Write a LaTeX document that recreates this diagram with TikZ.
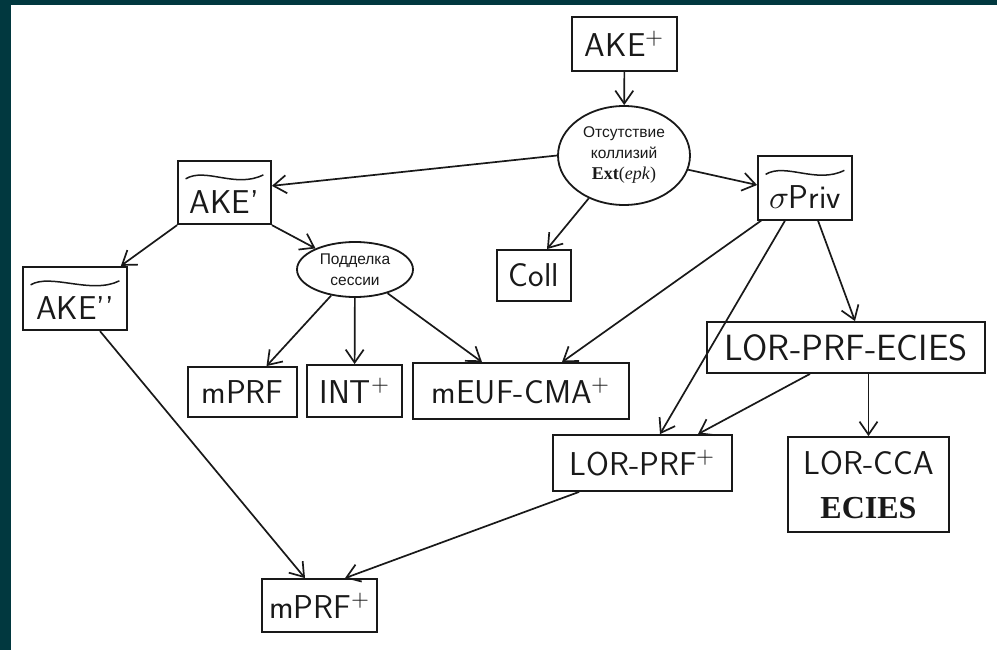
\documentclass[tikz,border=0pt]{standalone}
\usepackage{fontspec}
\usepackage{unicode-math}
\newfontfamily\cyrf{Liberation Sans}
\newfontfamily\serf{Liberation Serif}
\usetikzlibrary{shapes.geometric,arrows.meta}
\definecolor{bgteal}{RGB}{1,56,63}
\definecolor{ink}{RGB}{25,25,25}
\newcommand\tildeon[1]{\draw[tildeline] ([shift={(8.5,19)}]#1.north west) .. controls +(20,-12) and +(-28,14) .. ([shift={(-8.5,15)}]#1.north east);}
\begin{document}
\begin{tikzpicture}[x=1pt,y=-1pt,
  box/.style={draw=ink, line width=1.8pt, inner sep=0pt, font=\fontsize{33}{44}\selectfont\sffamily, text=ink},
  oval/.style={ellipse, draw=ink, line width=1.8pt, inner sep=0pt, font=\fontsize{15.5}{21}\selectfont\cyrf, align=center, text=ink},
  tbox/.style={box, text height=52.5pt, text depth=11pt},
  conn/.style={line width=1.7pt, draw=ink, -{Straight Barb[length=13pt,width=18pt,line width=1.7pt]}},
  tildeline/.style={line width=1.5pt, draw=ink}]
\fill[white] (0,0) rectangle (997,650);
\fill[bgteal] (0,0) rectangle (11,650);
\fill[bgteal] (0,0) rectangle (997,5);
\useasboundingbox (0,0) rectangle (997,650);

\node[box, minimum width=105, minimum height=54] (akep) at (624.5,44) {AKE$^{+}$};
\node[oval, minimum width=132, minimum height=99] (e1) at (624,155.5) {Отсутствие\\коллизий\\{\serf\fontsize{18}{21}\selectfont\textbf{Ext}(\textit{epk})}};
\node[tbox, minimum width=93] (ake1) at (224.5,192.5) {AKE’};
\node[tbox, minimum width=94] (spriv) at (805,188) {$\sigma$Priv};
\node[tbox, minimum width=104] (ake2) at (75,298.5) {AKE’’};
\node[oval, minimum width=116, minimum height=55] (podd) at (355,269.5) {Подделка\\сессии};
\node[box, minimum width=74, minimum height=51] (coll) at (534,275.5) {Coll};
\node[box, minimum width=109, minimum height=50] (mprf) at (242.5,392) {mPRF};
\node[box, minimum width=95, minimum height=52] (int) at (354.5,391) {INT$^{+}$};
\node[box, minimum width=216, minimum height=56] (meuf) at (521,391) {mEUF-CMA$^{+}$};
\node[box, minimum width=278, minimum height=51, font=\fontsize{36.5}{44}\selectfont\sffamily] (lpe) at (846,347.5) {LOR-PRF-ECIES};
\node[box, minimum width=179, minimum height=56] (lorprf) at (642.5,463) {LOR-PRF$^{+}$};
\node[box, minimum width=161, minimum height=95, align=center] (lorcca) at (868.5,484.5) {LOR-CCA\\{\serf\bfseries\fontsize{32}{44}\selectfont ECIES}};
\node[box, minimum width=115, minimum height=53] (mprfp) at (319.5,605.5) {mPRF$^{+}$};

\tildeon{ake1}
\tildeon{spriv}
\tildeon{ake2}

\draw[conn] (akep) -- (e1);
\draw[conn] (e1.west) -- (ake1.8);
\draw[conn] (e1) -- ([yshift=3pt]spriv.west);
\draw[conn] (e1) -- ([xshift=13pt]coll.north);
\draw[conn] (ake1.south west) -- ([xshift=-7pt]ake2.north east);
\draw[conn] (ake1.south east) -- (podd);
\draw[conn] (podd) -- ([xshift=24pt]mprf.north);
\draw[conn] (podd) -- (int);
\draw[conn] (podd) -- ([xshift=-39pt]meuf.north);
\draw[conn] ([xshift=4pt]spriv.south west) -- ([xshift=41pt]meuf.north);
\draw[conn] ([xshift=-20pt]spriv.south) -- ([xshift=17.5pt]lorprf.north);
\draw[conn] ([xshift=13pt]spriv.south) -- ([xshift=9pt]lpe.north);
\draw[conn] ([xshift=-36pt]lpe.south) -- ([xshift=55.5pt]lorprf.north);
\draw[conn] (lorcca.north |- lpe.south) -- (lorcca.north);
\draw[conn] ([xshift=25pt]ake2.south) -- ([xshift=-14.5pt]mprfp.north);
\draw[conn] ([xshift=27pt]lorprf.south west) -- ([xshift=25.5pt]mprfp.north);
\end{tikzpicture}
\end{document}
